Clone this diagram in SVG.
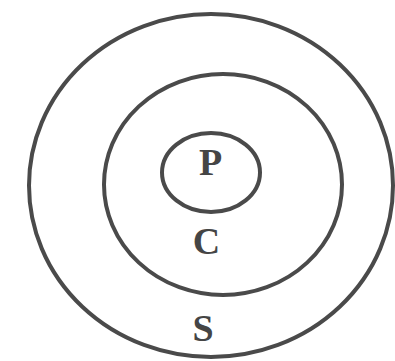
<svg xmlns="http://www.w3.org/2000/svg" width="395" height="361" viewBox="0 0 395 361">
<style>
.ring{fill:none;stroke:#4a4a4a;stroke-width:4}
.lbl{font-family:"Liberation Serif","Times New Roman",serif;font-weight:bold;font-size:38px;fill:#454545;text-anchor:middle}
</style>
<rect width="395" height="361" fill="#fff"/>
<g id="S"><ellipse class="ring" cx="211" cy="185.5" rx="182" ry="171.5"/><text class="lbl" x="203" y="341">S</text></g>
<g id="C"><ellipse class="ring" cx="223" cy="184.5" rx="119" ry="110.5"/><text class="lbl" x="206.5" y="254">C</text></g>
<g id="P"><ellipse class="ring" cx="211" cy="172.5" rx="49" ry="39.5"/><text class="lbl" x="210.5" y="175">P</text></g>
<g id="connectors"/>
</svg>
